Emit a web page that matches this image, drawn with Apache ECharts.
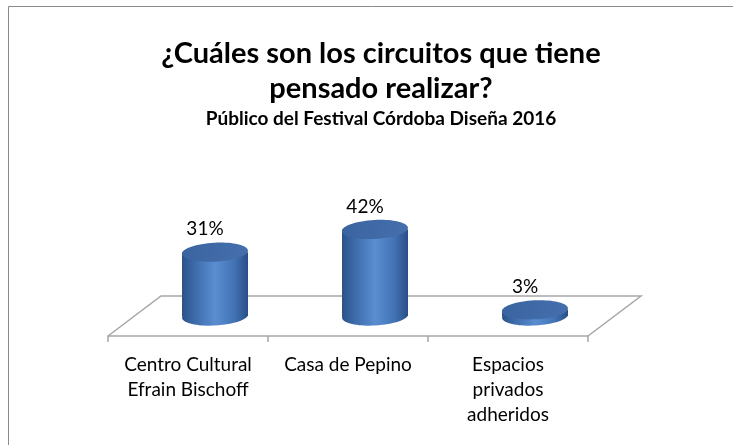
<!DOCTYPE html>
<html>
<head>
<meta charset="utf-8">
<script src="https://cdn.jsdelivr.net/npm/echarts@6/dist/echarts.min.js"></script>
<style>html,body{margin:0;padding:0;background:#fff;}#chart{width:733px;height:445px;}</style>
</head>
<body>
<div id="chart"></div>
<script>
var titleText = '¿Cuáles son los circuitos que tiene\npensado realizar?';
var subtitleText = 'Público del Festival Córdoba Diseña 2016';
var categories = ['Centro Cultural\nEfrain Bischoff', 'Casa de Pepino', 'Espacios\nprivados\nadheridos'];
var values = [31, 42, 3];
var valueLabels = ['31%', '42%', '3%'];

var FONT = 'Lato';
var chart = echarts.init(document.getElementById('chart'));

function renderCylinder(params, api) {
  var idx = api.value(0);
  var v = api.value(1);
  var base = api.coord([idx, 0]);
  var top = api.coord([idx, v]);
  var cx = base[0];
  var rx = 33, ry = 9.5;
  var rot = 0.05;
  var bodyGrad = new echarts.graphic.LinearGradient(0, 0, 1, 0, [
    {offset: 0, color: '#2a5288'},
    {offset: 0.18, color: '#3c6aa8'},
    {offset: 0.5, color: '#5a8dd2'},
    {offset: 0.8, color: '#4172b4'},
    {offset: 1, color: '#2a4f84'}
  ]);
  var topGrad = new echarts.graphic.LinearGradient(0, 0, 1, 1, [
    {offset: 0, color: '#3a64a0'},
    {offset: 1, color: '#4670ad'}
  ]);
  return {
    type: 'group',
    children: [
      {type: 'ellipse', shape: {cx: cx, cy: base[1], rx: rx, ry: ry},
       rotation: rot, originX: cx, originY: base[1],
       style: {fill: bodyGrad}},
      {type: 'rect', shape: {x: cx - rx, y: top[1], width: rx * 2, height: base[1] - top[1]},
       style: {fill: bodyGrad}},
      {type: 'ellipse', shape: {cx: cx, cy: top[1], rx: rx, ry: ry},
       rotation: rot, originX: cx, originY: top[1],
       style: {fill: topGrad}},
      {type: 'text', x: cx - 10, y: top[1] - 23,
       style: {text: valueLabels[params.dataIndex], fill: '#000', font: '19px ' + FONT,
               align: 'center', verticalAlign: 'middle'}}
    ]
  };
}

var option = {
  backgroundColor: '#fff',
  animation: false,
  title: [
    {text: titleText, left: 376, top: 31, textAlign: 'center',
     textStyle: {fontFamily: FONT, fontWeight: 'bold', fontSize: 29, lineHeight: 35, color: '#000'}},
    {text: subtitleText, left: 376, top: 103, textAlign: 'center',
     textStyle: {fontFamily: FONT, fontWeight: 'bold', fontSize: 19, lineHeight: 22, color: '#000'}}
  ],
  graphic: [
    {type: 'rect', shape: {x: 8.5, y: 6.5, width: 800, height: 500},
     style: {fill: 'none', stroke: '#8a8a8a', lineWidth: 1}, z: 0},
    {type: 'polyline', shape: {points: [[108, 336], [161, 296], [641, 296], [588, 336]]},
     style: {fill: 'none', stroke: '#a6a6a6', lineWidth: 1.5}, z: 1}
  ],
  grid: [
    {left: 108, width: 480, bottom: 109, height: 40},
    {left: 135, width: 480, bottom: 129, height: 103}
  ],
  xAxis: [
    {type: 'category', gridIndex: 0, data: categories, boundaryGap: true,
     axisLine: {show: true, lineStyle: {color: '#a6a6a6', width: 1.5}},
     axisTick: {show: true, length: 6, lineStyle: {color: '#a6a6a6', width: 1.5}},
     axisLabel: {interval: 0, margin: 16, fontFamily: FONT, fontSize: 19, lineHeight: 25, color: '#000', align: 'center'}},
    {type: 'category', gridIndex: 1, data: categories, boundaryGap: true, show: false}
  ],
  yAxis: [
    {type: 'value', gridIndex: 0, show: false, splitLine: {show: false}},
    {type: 'value', gridIndex: 1, min: 0, max: 50, show: false, splitLine: {show: false}}
  ],
  series: [{
    type: 'custom',
    xAxisIndex: 1, yAxisIndex: 1,
    renderItem: renderCylinder,
    data: values.map(function (v, i) { return [i, v]; }),
    z: 5
  }]
};
chart.setOption(option);
</script>
</body>
</html>
